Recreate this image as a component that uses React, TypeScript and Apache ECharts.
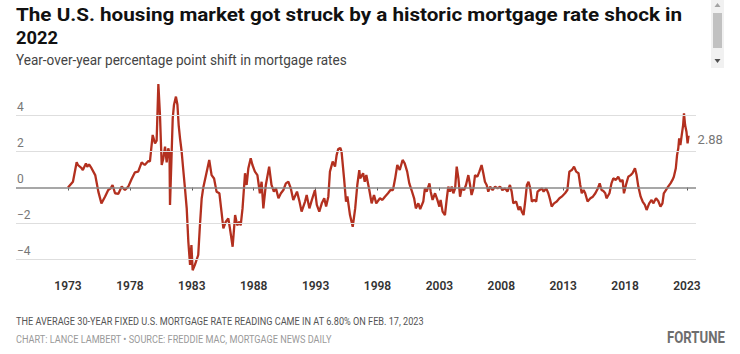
import React, { useEffect, useRef } from "react";
import * as echarts from "echarts";

// Decimal year of each reading
const years = [
  1973.0, 1973.4, 1973.7, 1973.8, 1974.1, 1974.2, 1974.45, 1974.55, 1974.7, 1974.9,
  1975.2, 1975.45, 1975.7, 1975.99, 1976.25, 1976.45, 1976.6, 1976.8, 1977.07, 1977.34,
  1977.6, 1977.87, 1978.14, 1978.4, 1978.67, 1978.95, 1979.2, 1979.49, 1979.62, 1979.84,
  1980.03, 1980.16, 1980.3, 1980.43, 1980.57, 1980.7, 1980.84, 1980.97, 1981.1, 1981.2,
  1981.24, 1981.35, 1981.46, 1981.56, 1981.72, 1981.84, 1981.94, 1982.05, 1982.18, 1982.3,
  1982.45, 1982.59, 1982.72, 1982.86, 1982.97, 1983.07, 1983.25, 1983.52, 1983.66, 1983.8,
  1983.93, 1984.15, 1984.41, 1984.6, 1984.8, 1985.0, 1985.23, 1985.4, 1985.55, 1985.75,
  1985.95, 1986.08, 1986.3, 1986.5, 1986.67, 1986.85, 1986.95, 1987.1, 1987.3, 1987.43,
  1987.57, 1987.76, 1987.9, 1988.1, 1988.3, 1988.5, 1988.64, 1988.78, 1988.98, 1989.25,
  1989.44, 1989.63, 1989.8, 1990.0, 1990.2, 1990.4, 1990.6, 1990.8, 1991.0, 1991.2,
  1991.5, 1991.7, 1991.87, 1992.15, 1992.28, 1992.5, 1992.7, 1992.95, 1993.1, 1993.3,
  1993.5, 1993.7, 1993.85, 1994.03, 1994.16, 1994.38, 1994.57, 1994.7, 1994.83, 1995.0,
  1995.1, 1995.3, 1995.46, 1995.57, 1995.78, 1996.0, 1996.2, 1996.37, 1996.53, 1996.6,
  1996.84, 1996.97, 1997.1, 1997.34, 1997.53, 1997.72, 1997.9, 1998.2, 1998.4, 1998.6,
  1998.85, 1999.05, 1999.25, 1999.43, 1999.6, 1999.8, 2000.03, 2000.2, 2000.4, 2000.57,
  2000.75, 2000.96, 2001.1, 2001.3, 2001.45, 2001.7, 2001.83, 2001.97, 2002.2, 2002.3,
  2002.45, 2002.65, 2002.84, 2003.0, 2003.1, 2003.26, 2003.45, 2003.6, 2003.72, 2003.86,
  2004.0, 2004.13, 2004.27, 2004.4, 2004.54, 2004.67, 2004.8, 2005.0, 2005.15, 2005.34,
  2005.48, 2005.6, 2005.75, 2005.88, 2006.07, 2006.23, 2006.41, 2006.55, 2006.68, 2006.82,
  2006.95, 2007.1, 2007.3, 2007.5, 2007.7, 2007.9, 2008.1, 2008.3, 2008.5, 2008.7,
  2008.84, 2008.97, 2009.2, 2009.4, 2009.53, 2009.66, 2009.8, 2009.93, 2010.07, 2010.2,
  2010.34, 2010.47, 2010.66, 2010.82, 2010.93, 2011.1, 2011.28, 2011.42, 2011.63, 2011.8,
  2011.95, 2012.07, 2012.26, 2012.48, 2012.7, 2012.88, 2013.15, 2013.34, 2013.5, 2013.7,
  2013.88, 2014.05, 2014.24, 2014.38, 2014.5, 2014.65, 2014.78, 2014.97, 2015.2, 2015.4,
  2015.6, 2015.8, 2015.95, 2016.1, 2016.25, 2016.4, 2016.5, 2016.74, 2016.9, 2017.05,
  2017.26, 2017.45, 2017.64, 2017.8, 2017.91, 2018.07, 2018.26, 2018.45, 2018.6, 2018.8,
  2018.93, 2019.07, 2019.26, 2019.42, 2019.6, 2019.74, 2019.95, 2020.14, 2020.28, 2020.5,
  2020.68, 2020.86, 2021.02, 2021.13, 2021.3, 2021.48, 2021.67, 2021.83, 2021.94, 2022.1,
  2022.2, 2022.3, 2022.37, 2022.47, 2022.58, 2022.69, 2022.76, 2022.85, 2022.96, 2023.05,
  2023.13,
];

// Year-over-year percentage point shift
const shift = [
  0.0, 0.32, 1.4, 1.25, 1.07, 0.97, 1.34, 1.15, 1.28, 1.07,
  0.69, -0.23, -0.88, -0.51, -0.14, -0.05, 0.14, -0.32, -0.35, 0.05,
  -0.14, 0.05, 0.47, 0.84, 0.88, 1.4, 1.25, 1.47, 1.45, 2.92,
  2.45, 2.6, 5.75, 4.03, 1.25, 1.6, 2.27, 1.4, 2.18, 1.9,
  -0.97, 1.4, 3.84, 4.58, 5.05, 4.6, 3.47, 2.73, 2.0, 1.07,
  -0.05, -1.16, -3.0, -4.3, -3.2, -4.6, -4.3, -3.75, -2.08, -0.6,
  0.0, 0.69, 1.53, 0.69, 0.5, -0.23, -0.32, -1.34, -2.27, -1.9,
  -1.72, -2.27, -3.29, -1.53, -2.1, -1.9, -2.1, -1.16, 0.79, 0.14,
  1.07, 1.62, 1.25, 0.88, 0.69, -0.32, 0.32, -1.16, 0.14, 1.16,
  0.14, -0.23, -0.05, -0.6, -0.32, -0.14, 0.23, 0.32, -0.05, -0.69,
  -0.23, -0.78, -1.34, -0.78, -0.42, -1.16, -0.69, -0.14, -0.97, -1.34,
  -0.88, -0.6, -1.06, -0.51, 0.88, 1.44, 1.16, 1.8, 2.14, 2.2,
  1.98, 0.51, -0.79, -0.5, -1.53, -2.18, -1.16, 0.14, 0.97, 0.5,
  0.79, 0.32, 0.69, -0.14, -0.88, -0.42, -0.88, -0.6, -0.69, -0.51,
  -0.32, -0.14, -0.14, 0.51, 1.25, 0.97, 1.53, 1.34, 0.88, 0.23,
  -0.14, -0.6, -1.16, -0.88, -1.2, -0.78, -0.05, -0.23, 0.23, -0.23,
  -0.69, -0.32, -0.69, -1.06, -0.69, -1.34, -1.53, -0.6, 0.05, -0.23,
  0.05, -0.32, -0.05, 1.16, 0.5, -0.51, -0.05, -0.14, 0.14, 0.69,
  0.14, -0.42, -0.05, 0.69, 0.6, 0.88, 1.25, 0.79, 0.32, 0.14,
  -0.23, 0.05, -0.14, 0.05, -0.05, 0.05, -0.14, -0.05, -0.23, 0.14,
  -0.23, -0.88, -0.78, -1.25, -1.06, -1.34, -1.53, -0.78, 0.14, 0.32,
  -0.05, -0.78, -0.69, -0.78, -0.23, -0.14, -0.05, -0.23, -0.05, -0.32,
  -0.69, -1.06, -0.88, -0.78, -0.6, -0.51, -0.32, -0.14, 0.88, 0.97,
  1.16, 0.88, 0.79, 0.14, -0.32, -0.14, -0.32, -0.78, -0.6, -0.51,
  -0.32, -0.05, 0.23, -0.14, -0.2, -0.32, -0.6, -0.32, 0.23, 0.51,
  0.42, 0.6, 0.32, 0.42, -0.32, 0.14, 0.6, 0.69, 0.79, 1.07,
  0.69, 0.05, -0.51, -0.78, -0.97, -1.25, -0.88, -0.69, -0.88, -0.6,
  -0.75, -1.06, -0.88, -0.32, -0.14, 0.05, 0.23, 0.42, 0.6, 1.07,
  1.8, 2.18, 2.73, 2.36, 2.92, 3.47, 4.12, 3.47, 3.1, 2.45,
  2.88,
];

const tickYears = [1973, 1978, 1983, 1988, 1993, 1998, 2003, 2008, 2013, 2018, 2023];
const gridValues = [4, 2, 0, -2, -4];

const TITLE_1 = "The U.S. housing market got struck by a historic mortgage rate shock in";
const TITLE_2 = "2022";
const SUBTITLE = "Year-over-year percentage point shift in mortgage rates";
const NOTE = "THE AVERAGE 30-YEAR FIXED U.S. MORTGAGE RATE READING CAME IN AT 6.80% ON FEB. 17, 2023";
const SOURCE = "CHART: LANCE LAMBERT \u2022 SOURCE: FREDDIE MAC, MORTGAGE NEWS DAILY";
const BRAND = "FORTUNE";

const fmtNum = (v: number) => (v < 0 ? "\u2212" + Math.abs(v) : String(v));

function fitScale(text: string, font: string, width: number): number {
  const ctx = document.createElement("canvas").getContext("2d");
  if (!ctx) return 1;
  ctx.font = font;
  const w = ctx.measureText(text).width;
  return w > 0 ? width / w : 1;
}

function textEl(
  text: string,
  x: number,
  y: number,
  size: number,
  weight: string,
  color: string,
  width: number
) {
  const font = `${weight} ${size}px Roboto`;
  return {
    type: "text",
    x,
    y,
    scaleX: fitScale(text, font, width),
    silent: true,
    style: {
      text,
      fontFamily: "Roboto",
      fontSize: size,
      fontWeight: weight,
      fill: color,
      align: "left",
      verticalAlign: "middle",
      textAlign: "left",
      textVerticalAlign: "middle",
    },
  };
}

export default function App() {
  const ref = useRef<HTMLDivElement>(null);

  useEffect(() => {
    document.body.style.margin = "0";
    if (!ref.current) return;
    const chart = echarts.init(ref.current, null, { renderer: "svg" });
    const points = years.map((y, i) => [y, shift[i]]);

    chart.setOption({
      animation: false,
      backgroundColor: "#ffffff",
      grid: { left: 16, width: 680, top: 79.5, height: 192.6 },
      xAxis: {
        type: "value",
        min: 1968.8,
        max: 2023.73,
        splitLine: { show: false },
        axisLine: { show: false },
        axisTick: {
          show: true,
          customValues: tickYears,
          length: 3,
          lineStyle: { color: "#555", width: 1 },
        },
        axisLabel: {
          customValues: tickYears,
          color: "#333",
          fontSize: 12,
          fontWeight: 600,
          fontFamily: "Roboto",
          margin: 8,
          formatter: (v: number) => String(v),
        },
      },
      yAxis: {
        type: "value",
        min: -4.7,
        max: 6,
        splitLine: { show: false },
        axisLine: { show: false },
        axisTick: { show: false },
        axisLabel: { show: false },
      },
      graphic: [
        textEl(TITLE_1, 16, 15, 18, "bold", "#111", 667),
        textEl(TITLE_2, 16, 38, 18, "bold", "#111", 42),
        textEl(SUBTITLE, 16, 60, 14, "normal", "#444", 331),
        textEl(NOTE, 16, 321, 11, "normal", "#555", 408),
        textEl(SOURCE, 16, 339, 11, "normal", "#9a9a9a", 316),
        textEl(BRAND, 667, 338, 16, "bold", "#6e6e6e", 58),
        { type: "rect", silent: true, shape: { x: 711, y: 0, width: 13, height: 68 }, style: { fill: "#f1f1f1" } },
        { type: "rect", silent: true, shape: { x: 713, y: 13, width: 9, height: 35 }, style: { fill: "#c1c1c1" } },
        { type: "polygon", silent: true, shape: { points: [[717.5, 3], [720.5, 7], [714.5, 7]] }, style: { fill: "#a3a3a3" } },
        { type: "polygon", silent: true, shape: { points: [[714.5, 59], [720.5, 59], [717.5, 63]] }, style: { fill: "#505050" } },
      ],
      series: [
        {
          type: "line",
          data: [],
          silent: true,
          z: 1,
          markLine: {
            symbol: "none",
            silent: true,
            animation: false,
            label: {
              show: true,
              position: "insideStartTop",
              distance: [1, 3],
              color: "#777",
              fontSize: 12,
              fontFamily: "Roboto",
              formatter: (p: any) => fmtNum(p.value),
            },
            data: gridValues.map((v) => ({
              yAxis: v,
              lineStyle: {
                color: v === 0 ? "#8a8a8a" : "#dedede",
                width: v === 0 ? 1.5 : 1,
                type: "solid",
              },
            })),
          },
        },
        {
          type: "line",
          data: points,
          z: 3,
          showSymbol: false,
          symbol: "none",
          lineStyle: { color: "#b3301f", width: 2.3 },
          endLabel: {
            show: true,
            color: "#777",
            fontSize: 13,
            fontFamily: "Roboto",
            distance: 9,
            offset: [0, 4],
            formatter: (p: any) => Number(p.value[1]).toFixed(2),
          },
        },
      ],
    });

    return () => chart.dispose();
  }, []);

  return <div ref={ref} style={{ width: 740, height: 354 }} />;
}
